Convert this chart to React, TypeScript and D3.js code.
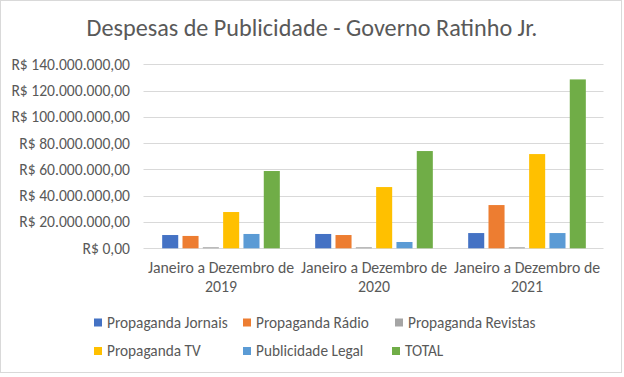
import React from "react";
import * as d3 from "d3";

const categories = ["Janeiro a Dezembro de|2019", "Janeiro a Dezembro de|2020", "Janeiro a Dezembro de|2021"];
const seriesNames = ["Propaganda Jornais", "Propaganda Rádio", "Propaganda Revistas", "Propaganda TV", "Publicidade Legal", "TOTAL"];
const seriesColors = ["#4472C4", "#ED7D31", "#A5A5A5", "#FFC000", "#5B9BD5", "#70AD47"];
const jornais = [10.1e6, 10.9e6, 11.6e6];
const radio = [9.4e6, 10.1e6, 32.9e6];
const revistas = [0.8e6, 0.8e6, 0.8e6];
const tv = [27.6e6, 46.6e6, 71.7e6];
const legal = [10.9e6, 4.8e6, 11.6e6];
const total = [58.8e6, 74.0e6, 128.5e6];
const yTicks = [0, 20e6, 40e6, 60e6, 80e6, 100e6, 120e6, 140e6];
const title = "Despesas de Publicidade - Governo Ratinho Jr.";

const FONT = "Carlito, Calibri, 'Liberation Sans', Arial, sans-serif";

function fmt(v: number) {
  if (v === 0) return "R$ 0,00";
  const s = Math.round(v).toString().replace(/\B(?=(\d{3})+(?!\d))/g, ".");
  return "R$ " + s + ",00";
}

export default function App() {
  const W = 624, H = 377;
  const left = 144.5, right = 603.5, top = 64.3, bottom = 248.3;
  const series = [jornais, radio, revistas, tv, legal, total];
  const x0 = d3.scaleBand<string>().domain(categories).range([left, right]).padding(0);
  const x1 = d3.scaleBand<string>().domain(seriesNames).range([0, x0.bandwidth()]).paddingInner(0.21).paddingOuter(0.87);
  const y = d3.scaleLinear().domain([0, 140e6]).range([bottom, top]);
  const legendPos = [
    [94, 322.5], [243, 322.5], [395, 322.5],
    [94, 351], [243, 351], [392, 351],
  ];
  return (
    <svg width={W} height={H} style={{ position: "absolute", left: 0, top: 0 }}>
      <rect x={0} y={0} width={W} height={H} fill="#fff" />
      <rect x={0.5} y={0.5} width={621} height={372} fill="#fff" stroke="#d9d9d9" />
      <text x={312} y={36} textAnchor="middle" fontFamily={FONT} fontSize={24.2} fill="#595959">{title}</text>
      {yTicks.map((t) => (
        <g key={t}>
          <line x1={left - 1} x2={right} y1={Math.round(y(t)) + 0.5} y2={Math.round(y(t)) + 0.5} stroke="#d9d9d9" />
          <text x={130} y={y(t)} dy="0.35em" textAnchor="end" fontFamily={FONT} fontSize={15.6} fill="#595959">{fmt(t)}</text>
        </g>
      ))}
      {categories.map((c, ci) => (
        <g key={c}>
          {series.map((s, si) => (
            <rect key={si} x={(x0(c) as number) + (x1(seriesNames[si]) as number)} y={y(s[ci])} width={x1.bandwidth()} height={bottom - y(s[ci])} fill={seriesColors[si]} />
          ))}
          {c.split("|").map((line, li) => (
            <text key={li} x={(x0(c) as number) + x0.bandwidth() / 2} y={273 + li * 19} textAnchor="middle" fontFamily={FONT} fontSize={15.8} fill="#595959">{line}</text>
          ))}
        </g>
      ))}
      {seriesNames.map((n, i) => (
        <g key={n}>
          <rect x={legendPos[i][0]} y={legendPos[i][1] - 4} width={8} height={8} fill={seriesColors[i]} />
          <text x={legendPos[i][0] + 13} y={legendPos[i][1]} dy="0.35em" fontFamily={FONT} fontSize={15.3} fill="#595959">{n}</text>
        </g>
      ))}
    </svg>
  );
}
